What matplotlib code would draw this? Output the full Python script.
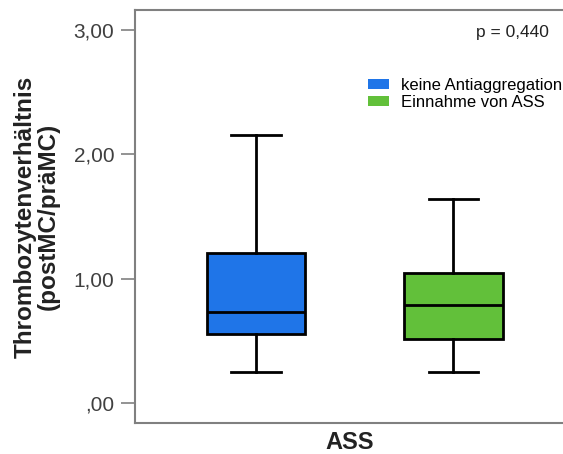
import matplotlib.pyplot as plt
from matplotlib.patches import Patch

plt.rcParams['font.family'] = ['Liberation Sans', 'DejaVu Sans']

groups = ['keine Antiaggregation', 'Einnahme von ASS']
whislo = [0.25, 0.25]
q1 = [0.56, 0.52]
med = [0.735, 0.79]
q3 = [1.21, 1.05]
whishi = [2.155, 1.64]
colors = ['#1f75e8', '#62c03a']
yticks = [0, 1, 2, 3]
yticklabels = [',00', '1,00', '2,00', '3,00']
p_text = 'p = 0,440'

stats = []
for i in range(len(groups)):
    stats.append(dict(label=groups[i], whislo=whislo[i], q1=q1[i], med=med[i],
                      q3=q3[i], whishi=whishi[i], fliers=[]))

fig = plt.figure(figsize=(5.63, 4.54), dpi=100)
ax = fig.add_axes([0.2398, 0.068, 0.762, 0.91])

bp = ax.bxp(stats, positions=[1, 2], widths=0.5, patch_artist=True,
            showfliers=False,
            boxprops=dict(edgecolor='black', linewidth=2),
            medianprops=dict(color='black', linewidth=2),
            whiskerprops=dict(color='black', linewidth=2),
            capprops=dict(color='black', linewidth=2),
            capwidths=0.25)
for patch, c in zip(bp['boxes'], colors):
    patch.set_facecolor(c)

ax.set_xlim(0.388, 2.56)
ax.set_ylim(-0.16, 3.16)
ax.set_yticks(yticks)
ax.set_yticklabels(yticklabels, fontsize=15, color='#404040')
ax.set_xticks([])
ax.tick_params(axis='y', length=10, width=1.2, color='#808080', pad=5)
for s in ax.spines.values():
    s.set_color('#808080')
    s.set_linewidth(1.5)
ax.spines['right'].set_color('#c8c8c8')

ax.set_ylabel('Thrombozytenverhältnis\n(postMC/präMC)', fontsize=17.5,
              fontweight='bold', color='#222222', labelpad=10, linespacing=1.0)
ax.set_xlabel('ASS', fontsize=17, fontweight='bold', color='#222222', labelpad=6)

ax.text(0.965, 0.945, p_text, transform=ax.transAxes, ha='right', va='center',
        fontsize=12.5, color='#222222')

handles = [Patch(facecolor=c, edgecolor='none') for c in colors]
ax.legend(handles, groups, loc='upper left', bbox_to_anchor=(0.543, 0.835),
          frameon=False, fontsize=12, handlelength=1.26, handleheight=0.5,
          handletextpad=0.72, labelspacing=0.1, borderaxespad=0, borderpad=0)

plt.savefig('out.png', dpi=100)
